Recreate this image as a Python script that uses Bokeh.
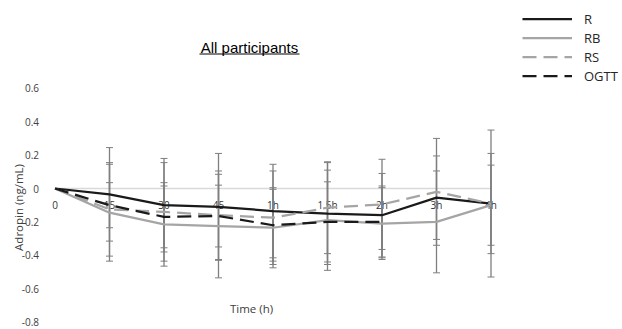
import math
from bokeh.plotting import figure
from bokeh.models import (Range1d, FixedTicker, Whisker, TeeHead, ColumnDataSource,
                          Legend, LegendItem, Label)
from bokeh.embed import file_html
from bokeh.resources import INLINE

# ---------------- data ----------------
categories = ["0", "15", "30", "45", "1h", "1.5h", "2h", "3h", "4h"]
r_vals = [0, -0.035, -0.10, -0.11, -0.135, -0.15, -0.16, -0.055, -0.09]
rb_vals = [0, -0.145, -0.215, -0.225, -0.235, -0.19, -0.21, -0.20, -0.10]
rs_vals = [0, -0.125, -0.14, -0.16, -0.175, -0.115, -0.095, -0.02, -0.09]
ogtt_vals = [0, -0.10, -0.17, -0.165, -0.22, -0.20, -0.20]

r_err = [0, 0.28, 0.28, 0.32, 0.28, 0.305, 0.25, 0.25, 0.30]
rb_err = [0, 0.29, 0.25, 0.31, 0.24, 0.30, 0.215, 0.305, 0.24]
rs_err = [0, 0.28, 0.295, 0.265, 0.28, 0.275, 0.27, 0.32, 0.44]
ogtt_err = [0, 0.135, 0.185, 0.185, 0.215, 0.24, 0.215]

series_names = ["R", "RB", "RS", "OGTT"]
y_ticks = [-0.8, -0.6, -0.4, -0.2, 0, 0.2, 0.4, 0.6]
y_tick_labels = ["-0.8", "-0.6", "-0.4", "-0.2", "0", "0.2", "0.4", "0.6"]

title_text = "All participants"
x_title = "Time (h)"
y_title = "Adropin (ng/mL)"

# ---------------- layout helpers (canvas pixels) ----------------
W, H = 622, 329
X0_PX = 54.5
X_STEP = 54.5
Y0_PX = 188
Y_SCALE = 167


def px_to_x(px):
    return (px - X0_PX) / X_STEP


def px_to_y(py):
    return (Y0_PX - py) / Y_SCALE


p = figure(width=W, height=H, output_backend="svg", toolbar_location=None, title=None,
           x_range=Range1d(px_to_x(0), px_to_x(W)),
           y_range=Range1d(px_to_y(H), px_to_y(0)),
           min_border_left=0, min_border_right=0, min_border_top=0, min_border_bottom=0)
p.outline_line_color = None
p.xgrid.visible = False
p.ygrid.visible = False
p.background_fill_color = "white"
p.border_fill_color = "white"

TEXT = "#404040"
FONT = "Open Sans"

# x axis drawn along zero
xs = list(range(len(categories)))
xa = p.xaxis[0]
xa.fixed_location = 0
xa.ticker = FixedTicker(ticks=xs)
xa.major_label_overrides = {i: c for i, c in zip(xs, categories)}
xa.bounds = (xs[0], xs[-1])
xa.axis_line_color = "#d9d9d9"
xa.axis_line_width = 1.5
xa.major_tick_line_color = None
xa.minor_tick_line_color = None
xa.major_label_text_font = FONT
xa.major_label_text_font_size = "10px"
xa.major_label_text_color = "#333333"
xa.major_label_standoff = 3
xa.level = "underlay"

# y axis (labels only)
ya = p.yaxis[0]
ya.fixed_location = px_to_x(50.5)
ya.ticker = FixedTicker(ticks=y_ticks)
ya.major_label_overrides = {t: l for t, l in zip(y_ticks, y_tick_labels)}
ya.axis_line_color = None
ya.major_tick_line_color = None
ya.minor_tick_line_color = None
ya.major_label_text_font = FONT
ya.major_label_text_font_size = "10px"
ya.major_label_text_color = TEXT
ya.major_label_standoff = 6

# error bars
EB = "#7f7f7f"
for vals, errs in [(rb_vals, rb_err), (rs_vals, rs_err), (r_vals, r_err), (ogtt_vals, ogtt_err)]:
    bx, lo, up = [], [], []
    for i, (v, e) in enumerate(zip(vals, errs)):
        if e > 0:
            bx.append(xs[i]); lo.append(v - e); up.append(v + e)
    src = ColumnDataSource(dict(base=bx, lower=lo, upper=up))
    w = Whisker(source=src, base="base", lower="lower", upper="upper",
                line_color=EB, line_width=1.3, level="underlay",
                upper_head=TeeHead(size=7, line_color=EB, line_width=1),
                lower_head=TeeHead(size=7, line_color=EB, line_width=1))
    p.add_layout(w)

# lines
LW = 2.25
DASH = "14 7"
r_line = p.line(xs, r_vals, line_color="#1a1a1a", line_width=LW)
rb_line = p.line(xs, rb_vals, line_color="#a5a5a5", line_width=LW)
rs_line = p.line(xs, rs_vals, line_color="#a5a5a5", line_width=LW, line_dash=DASH)
ogtt_line = p.line(xs[:len(ogtt_vals)], ogtt_vals, line_color="#1a1a1a", line_width=LW,
                   line_dash=DASH)

legend = Legend(items=[LegendItem(label=n, renderers=[r]) for n, r in
                       zip(series_names, [r_line, rb_line, rs_line, ogtt_line])],
                location=(522, 244), orientation="vertical",
                glyph_width=50, glyph_height=19, label_height=19, spacing=0,
                padding=0, margin=0, label_standoff=12,
                border_line_color=None, background_fill_alpha=0,
                label_text_font=FONT, label_text_font_size="13px",
                label_text_color="#262626")
p.add_layout(legend)

# title with underline
p.add_layout(Label(x=px_to_x(249), y=px_to_y(47), text=title_text, text_align="center",
                   text_baseline="alphabetic", text_font="Liberation Sans",
                   text_font_size="15px", text_color="black"))
p.segment(x0=[px_to_x(199)], x1=[px_to_x(299)], y0=[px_to_y(53.5)], y1=[px_to_y(53.5)],
          line_color="black", line_width=1)

# axis titles
p.add_layout(Label(x=px_to_x(251), y=px_to_y(308), text=x_title, text_align="center",
                   text_baseline="middle", text_font=FONT, text_font_size="11.5px",
                   text_color=TEXT))
p.add_layout(Label(x=px_to_x(17.5), y=px_to_y(207), text=y_title, text_align="center",
                   text_baseline="middle", angle=math.pi / 2, text_font=FONT,
                   text_font_size="11.5px", text_color=TEXT))

open("out.html", "w").write(file_html(p, INLINE))
